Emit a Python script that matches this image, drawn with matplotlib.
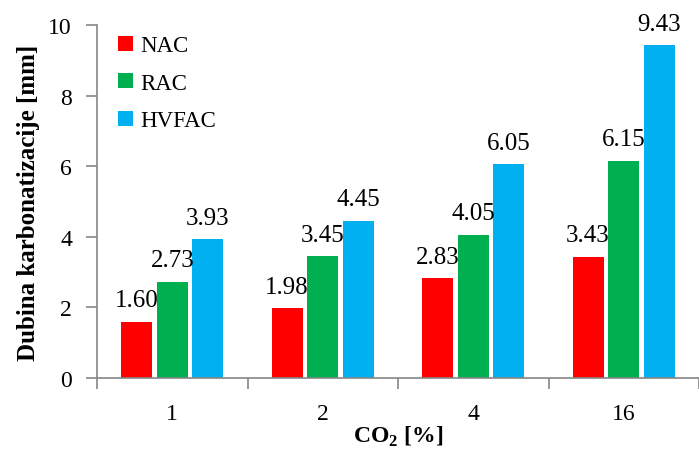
import matplotlib.pyplot as plt
import numpy as np

categories = ['1', '2', '4', '16']
series = ['NAC', 'RAC', 'HVFAC']
nac = [1.60, 1.98, 2.83, 3.43]
rac = [2.73, 3.45, 4.05, 6.15]
hvfac = [3.93, 4.45, 6.05, 9.43]
colors = ['#FF0000', '#00B050', '#00B0F0']

plt.rcParams['font.family'] = ['Liberation Serif']
plt.rcParams['mathtext.fontset'] = 'custom'
plt.rcParams['mathtext.rm'] = 'Liberation Serif'
plt.rcParams['mathtext.bf'] = 'Liberation Serif:bold'

fig = plt.figure(figsize=(6.99, 4.52), dpi=100)
ax = fig.add_axes([97 / 699, 73 / 452, 1 - 97 / 699, 353 / 452])

x = np.arange(len(categories))
width = 0.205
step = 0.237
for i, (vals, name) in enumerate(zip([nac, rac, hvfac], series)):
    pos = x + (i - 1) * step
    ax.bar(pos, vals, width, color=colors[i], label=name)
    for p, v in zip(pos, vals):
        ax.text(p, v + 0.3, f'{v:.2f}', ha='center', va='bottom', fontsize=18)

ax.set_xlim(-0.5, 3.5 - 6 / 152)
ax.set_ylim(0, 10)
ax.set_yticks([0, 2, 4, 6, 8, 10])
ax.set_xticks(x)
ax.set_xticklabels(categories)
ax.set_xticks(np.arange(-0.5, 4, 1), minor=True)
ax.tick_params(axis='x', which='major', length=0, pad=18, labelsize=17)
ax.tick_params(axis='x', which='minor', length=8, color='#868686', width=1.2)
ax.tick_params(axis='y', length=8, color='#868686', width=1.2, labelsize=17, pad=10)

for s in ['top', 'right']:
    ax.spines[s].set_visible(False)
for s in ['left', 'bottom']:
    ax.spines[s].set_color('#868686')
    ax.spines[s].set_linewidth(1.2)

ax.set_ylabel('Dubina karbonatizacije [mm]', fontsize=18, fontweight='bold', labelpad=6)
ax.set_xlabel(r'CO$_\mathbf{2}$ [%]', fontsize=17, fontweight='bold', labelpad=0)

ax.legend(loc='upper left', bbox_to_anchor=(0.018, 1.0), frameon=False, fontsize=16.5,
          handlelength=0.65, handleheight=0.65, handletextpad=0.3, labelspacing=0.72,
          borderaxespad=0.0, borderpad=0.45)

fig.savefig('out.png', dpi=100)
